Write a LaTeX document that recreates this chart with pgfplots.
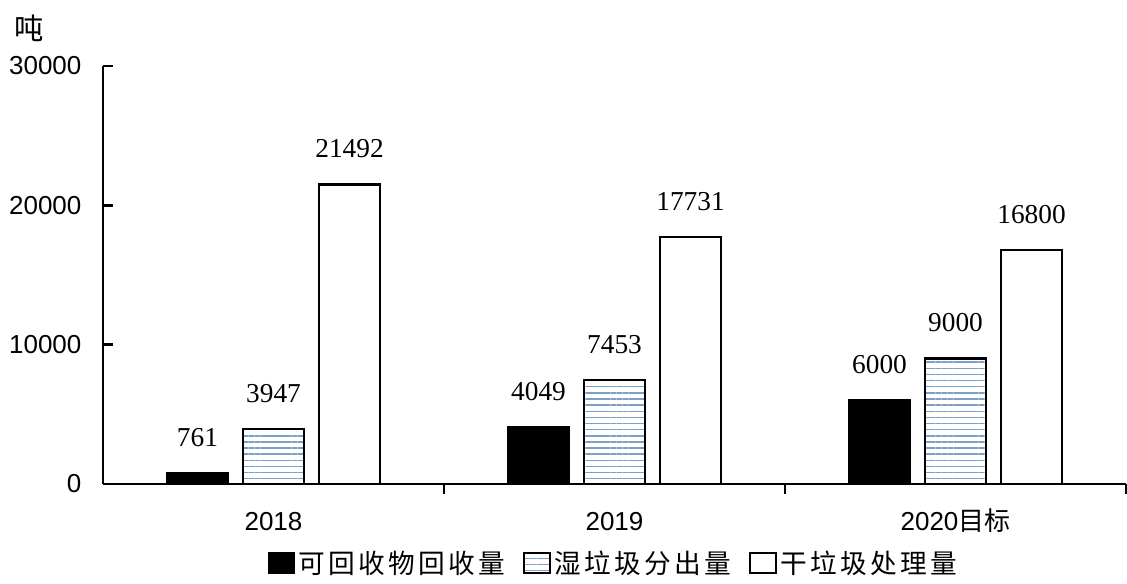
\documentclass[border=0pt]{standalone}
\usepackage{pgfplots}
\pgfplotsset{compat=1.18}
\usepackage{fontspec}
\setmainfont{Liberation Sans}
\newfontfamily\cjk{Noto Sans CJK SC}
\newfontfamily\cjkwide[LetterSpace=12]{Noto Sans CJK SC}
\newfontfamily\serif{Liberation Serif}
\usetikzlibrary{patterns.meta}
\definecolor{hatchblue}{RGB}{125,160,200}
\begin{document}
\begin{tikzpicture}
\begin{axis}[
  at={(0,0)}, anchor=south west,
  scale only axis, width=767.25pt, height=313.5pt,
  xmin=-0.5, xmax=2.5, ymin=0, ymax=30000,
  axis x line*=bottom, axis y line*=left,
  axis line style={line width=2pt,-},
  every tick/.style={line width=2pt,black},
  tick align=inside,
  major tick length=7.5pt,
  xtick={0.5,1.5,2.5}, xticklabels={},
  extra x ticks={0,1,2},
  extra x tick labels={2018,2019,{2020\cjk 目标}},
  extra x tick style={major tick length=0pt},
  xticklabel style={anchor=base, inner sep=0pt, yshift=-34.5pt, font=\fontsize{19.5}{20}\selectfont},
  ytick={0,10000,20000,30000},
  scaled y ticks=false,
  /pgf/number format/.cd, fixed, precision=0, 1000 sep={}, assume math mode=true, /pgfplots/.cd,
  yticklabel style={anchor=east, inner sep=0pt, xshift=-16pt, font=\fontsize{19.5}{20}\selectfont},
  ybar, bar width=45.75pt,
  nodes near coords={\pgfmathprintnumber[fixed,precision=0,1000 sep={},assume math mode=true]{\pgfplotspointmeta}},
  nodes near coords style={anchor=base, inner sep=0pt, yshift=20pt, font=\serif\fontsize{20.5}{20}\selectfont, black},
  clip=false,
  legend columns=3,
  legend style={draw=none, at={(0.499,-0.189)}, anchor=center, font=\cjkwide\fontsize{20}{20}\selectfont,
    /tikz/every odd column/.append style={column sep=1pt},
    /tikz/every even column/.append style={column sep=12pt},
    cells={anchor=west}, inner sep=0pt},
  legend image code/.code={\draw[#1,line width=1.5pt] (0pt,-7.5pt) rectangle (19pt,7.5pt);},
]
\addplot[bar shift=-57pt, draw=black, line width=2pt, fill=black] coordinates {(0,761) (1,4049) (2,6000)};
\addplot[bar shift=0pt, draw=black, line width=2pt, fill=white, postaction={pattern={Lines[angle=0,distance=4.6pt,line width=1.1pt]}, pattern color=hatchblue}] coordinates {(0,3947) (1,7453) (2,9000)};
\addplot[bar shift=57pt, draw=black, line width=2pt, fill=white] coordinates {(0,21492) (1,17731) (2,16800)};
\legend{可回收物回收量,湿垃圾分出量,干垃圾处理量}
\node[font=\cjk\fontsize{22}{22}\selectfont, inner sep=0pt] at ([xshift=-55.5pt,yshift=28pt]rel axis cs:0,1) {吨};
\end{axis}
\pgfresetboundingbox
\useasboundingbox (-77.25pt,-74.25pt) rectangle (768pt,363pt);
\end{tikzpicture}
\end{document}
